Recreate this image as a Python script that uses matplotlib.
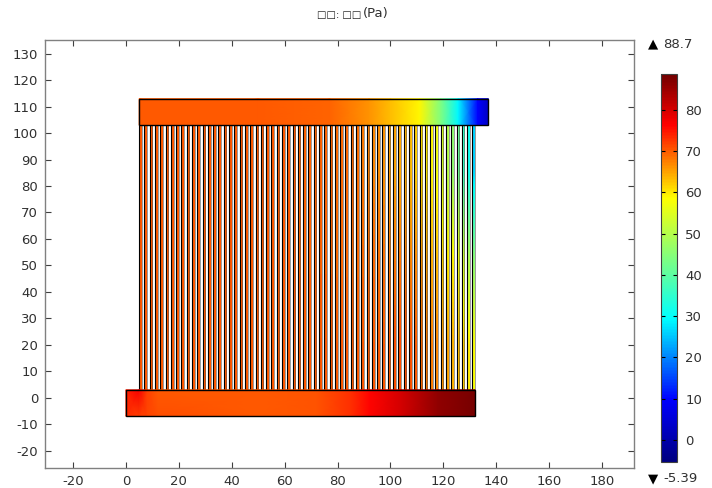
import numpy as np
import matplotlib
matplotlib.use("Agg")
import matplotlib.pyplot as plt
from matplotlib.cm import ScalarMappable
from matplotlib.colors import LinearSegmentedColormap, Normalize
from matplotlib.patches import Rectangle

plt.rcParams["axes.unicode_minus"] = False

# values
P_MIN = -5.39
P_MAX = 88.7

top_x = [5, 50, 77, 92, 100, 111, 119, 125.6, 133, 137]
top_p = [70, 70, 69.5, 66, 63, 59, 44, 29, 10, 3]

bottom_x = [0, 5, 8, 12, 50, 72, 85, 92, 104, 118, 132]
bottom_lower_p = [73, 72, 71.5, 71, 70, 70.5, 73, 76, 80, 86, 88]
bottom_upper_p = [74, 77, 72, 70, 70, 70.5, 73, 76, 80, 86, 88]

# one entry per channel, left to right
channel_low = [70, 70, 70, 70, 70, 70, 70, 70, 70, 70, 70, 70, 70, 70, 70, 70,
               70, 70, 70, 70, 70, 70, 70, 70, 70, 70, 70, 70, 70, 70, 70, 70,
               70, 70, 70, 70, 70, 70, 70, 70, 70, 70, 70, 70, 70, 70, 70, 70,
               71, 71, 71, 70.5, 70, 69, 68, 67.5, 67, 66, 65, 64, 63, 62, 60, 58]
channel_mid = [70, 70, 70, 70, 70, 70, 70, 70, 70, 70, 70, 70, 70, 70, 70, 70,
               70, 70, 70, 70, 70, 70, 70, 70, 70, 70, 70, 70, 70, 70, 69.5, 69.5,
               69.5, 69.5, 69.5, 69.5, 69.5, 69, 69, 69, 69, 69, 69, 69, 69, 68.5, 68.5, 68,
               68, 68, 67.5, 67, 66.5, 66, 65, 64, 63, 61.5, 60, 59, 56, 53, 49, 45]
channel_top = [70, 70, 70, 70, 70, 70, 70, 70, 70, 70, 70, 70, 70, 70, 70, 70,
               70, 70, 70, 70, 70, 70, 70, 70, 70, 70, 70, 70, 70, 70, 69.5, 69.5,
               69.5, 69.5, 69.5, 69.5, 69.5, 69, 69, 69, 69, 68.5, 68, 67.5, 67, 66.5, 66, 65.5,
               65, 64.5, 64, 63, 62, 61, 60, 59, 57, 54, 50, 46, 41, 36, 31, 26]

x_ticks = list(range(-20, 181, 20))
y_ticks = list(range(-20, 131, 10))
bar_ticks = list(range(0, 81, 10))

W, H = 712, 488
TEXT = "#303030"
FRAME = "#808080"

cmap = LinearSegmentedColormap.from_list("rainbow_fem", [
    (0.0, (0.0, 0.0, 0.5)),
    (0.16, (0.0, 0.0, 1.0)),
    (0.37, (0.0, 1.0, 1.0)),
    (0.68, (1.0, 1.0, 0.0)),
    (0.87, (1.0, 0.0, 0.0)),
    (1.0, (0.45, 0.0, 0.0)),
])
norm = Normalize(P_MIN, P_MAX)


def pixel_axes(fig, left, top, right, bottom):
    return fig.add_axes([left / W, 1 - bottom / H, (right - left) / W, (bottom - top) / H])


def draw_block(ax, xs, y0, y1, low, high):
    X, Y = np.meshgrid(xs, [y0, y1])
    ax.pcolormesh(X, Y, np.array([low, high]), shading="gouraud", cmap=cmap, norm=norm, zorder=2)
    ax.add_patch(Rectangle((xs[0], y0), xs[-1] - xs[0], y1 - y0, fill=False,
                           edgecolor="black", linewidth=1.0, zorder=3))


fig = plt.figure(figsize=(W / 100, H / 100), dpi=100)
ax = pixel_axes(fig, 45, 40, 634, 468)

channel_left = np.arange(len(channel_mid)) * 2 + 5
for left, low, mid, up in zip(channel_left, channel_low, channel_mid, channel_top):
    # imshow here, gouraud meshes come out too wide at this size
    ax.imshow([[low], [mid], [up]], extent=[left, left + 1, 3, 103], origin="lower",
              aspect="auto", interpolation="bilinear", cmap=cmap, norm=norm, zorder=1)
    ax.plot([left, left], [3, 103], color="black", linewidth=0.8, zorder=1.5)
    ax.plot([left + 1, left + 1], [3, 103], color="#505050", linewidth=0.4, zorder=1.5)

draw_block(ax, top_x, 103, 113, top_p, top_p)
draw_block(ax, bottom_x, -7, 3, bottom_lower_p, bottom_upper_p)

ax.set_xlim(-30.6, 192.1)
ax.set_ylim(-26.55, 135.15)
ax.set_xticks(x_ticks)
ax.set_yticks(y_ticks)
ax.tick_params(direction="in", length=4, width=0.8, top=True, right=True, color="#404040",
               labelsize=9.5, labelcolor=TEXT, pad=5)
for spine in ax.spines.values():
    spine.set_color(FRAME)
    spine.set_linewidth(1.0)

# colour bar
cax = pixel_axes(fig, 661, 74, 677, 462)
cbar = fig.colorbar(ScalarMappable(norm=norm, cmap=cmap), cax=cax)
cbar.set_ticks(bar_ticks)
cbar.ax.tick_params(direction="in", length=3, width=0.8, left=True, right=True, color="black",
                    labelsize=9.5, labelcolor=TEXT, pad=6)
cbar.outline.set_edgecolor("#404040")
cbar.outline.set_linewidth(0.8)

fig.text(361 / W, 1 - 15 / H, "\u25a1\u25a1: \u25a1\u25a1", ha="right", va="center",
         fontsize=7.2, color="#202020")
fig.text(363 / W, 1 - 14 / H, "(Pa)", ha="left", va="center", fontsize=9.5, color=TEXT)
fig.text(648 / W, 1 - 44 / H, "\u25b2", ha="left", va="center", fontsize=9.5, color="black")
fig.text(663 / W, 1 - 44 / H, f"{P_MAX}", ha="left", va="center", fontsize=9.5, color=TEXT)
fig.text(648 / W, 1 - 479 / H, "\u25bc", ha="left", va="center", fontsize=9.5, color="black")
fig.text(663 / W, 1 - 479 / H, f"{P_MIN}", ha="left", va="center", fontsize=9.5, color=TEXT)

fig.savefig("out.png", dpi=100)
